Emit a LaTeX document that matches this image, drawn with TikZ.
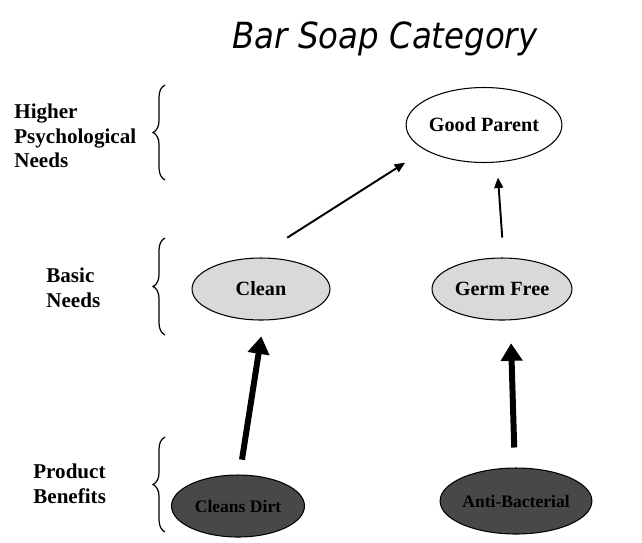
\documentclass[tikz,border=0pt]{standalone}
\usepackage{fontspec}
\setmainfont{Liberation Serif}
\newfontfamily\titlefont[FakeStretch=0.9]{DejaVu Sans}
\usetikzlibrary{arrows.meta,decorations.pathreplacing,shapes.geometric}
\definecolor{needfill}{RGB}{217,217,217}
\definecolor{benefitfill}{RGB}{72,72,72}

\begin{document}
\begin{tikzpicture}[x=0.02cm, y=-0.02cm,
    level/.style={anchor=west, align=left, inner sep=0pt, font=\fontsize{12}{14}\selectfont\bfseries},
    goal/.style={ellipse, draw, line width=0.6pt, inner sep=0pt, font=\fontsize{11.5}{13}\selectfont\bfseries},
    need/.style={goal, fill=needfill},
    benefit/.style={goal, fill=benefitfill, font=\fontsize{10}{12}\selectfont\bfseries},
    thinarrow/.style={-{Triangle[length=6pt,width=5pt]}, line width=1.1pt},
    thickarrow/.style={-{Triangle[length=10pt,width=12pt]}, line width=3.4pt},
    bracket/.style={decorate, decoration={brace, amplitude=6.8pt}, line width=0.7pt}]
    \useasboundingbox (0,0) rectangle (642,542);

    %% titre
    \node (title) at (385,39) {\titlefont\itshape\fontsize{20.5}{24}\selectfont Bar Soap Category};

    %% niveaux
    \node [level] (higher) at (14,136) {Higher\\Psychological\\Needs};
    \node [level] (basic) at (46,288) {Basic\\Needs};
    \node [level] (product) at (33,484) {Product\\Benefits};
    \draw [bracket] (165,180) -- (165,85);
    \draw [bracket] (165,335) -- (165,238);
    \draw [bracket] (165,532) -- (165,437);

    %% ellipses
    \node [goal, minimum width=2.56cm, minimum height=1.5cm] (parent) at (484,125) {Good Parent};
    \node [need, minimum width=2.76cm, minimum height=1.24cm] (clean) at (261,289) {Clean};
    \node [need, minimum width=2.8cm, minimum height=1.24cm] (germ) at (502,289) {Germ Free};
    \node [benefit, minimum width=2.66cm, minimum height=1.24cm] (dirt) at (238,506) {Cleans Dirt};
    \node [benefit, minimum width=2.64cm, minimum height=1.32cm] (bact) at (516,501) {Anti-Bacterial};

    %% fleches
    \draw [thinarrow, shorten <=0.74cm, shorten >=0.47cm] (clean.99) -- (parent.203);
    \draw [thinarrow, shorten <=0.4cm, shorten >=0.3cm] (germ.87) -- (parent.289);
    \draw [thickarrow, shorten <=0.3cm, shorten >=0.32cm] (dirt.87) -- (clean.275);
    \draw [thickarrow, shorten <=0.4cm, shorten >=0.46cm] (bact.92) -- (germ.285);
\end{tikzpicture}
\end{document}
